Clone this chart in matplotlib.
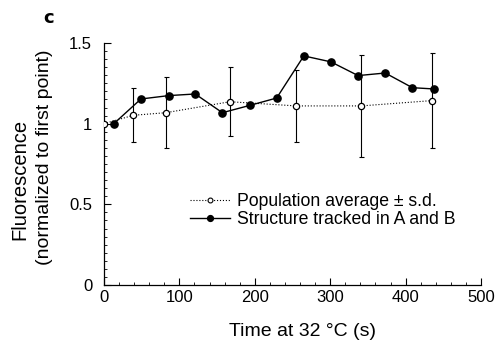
import matplotlib
matplotlib.use("Agg")
import matplotlib.pyplot as plt
from matplotlib.ticker import MultipleLocator
from matplotlib.lines import Line2D

plt.rcParams['font.family'] = ['Liberation Sans', 'DejaVu Sans']

# Population average ± s.d.
pop_t = [0, 39, 82, 167, 255, 341, 435]
pop_mean = [1.0, 1.052, 1.068, 1.136, 1.11, 1.11, 1.143]
pop_sd = [0.0, 0.168, 0.221, 0.213, 0.221, 0.316, 0.296]

# Structure tracked in A and B
trk_t = [13, 49, 86, 121, 157, 194, 229, 265, 301, 337, 373, 409, 438]
trk_val = [1.0, 1.153, 1.174, 1.184, 1.068, 1.114, 1.159, 1.42, 1.383, 1.298, 1.314, 1.223, 1.215]

W, H = 498, 341
fig = plt.figure(figsize=(W/100, H/100), dpi=100)
ax = fig.add_axes([104/W, 1-285/H, 377/W, 242/H])

ax.errorbar(pop_t, pop_mean, yerr=pop_sd, fmt='none', ecolor='black',
            capsize=1.8, elinewidth=0.8, capthick=0.8, zorder=2)
ax.plot(pop_t, pop_mean, ':o', color='black', lw=0.8, mfc='white', mec='black',
        ms=4.5, mew=0.9, zorder=3)
ax.plot(trk_t, trk_val, '-o', color='black', lw=1.0, ms=5.2, zorder=4)

ax.set_xlim(0, 500)
ax.set_ylim(0, 1.5)
ax.set_xticks([0, 100, 200, 300, 400, 500])
ax.set_yticks([0, 0.5, 1, 1.5])
ax.set_yticklabels(['0', '0.5', '1', '1.5'])
ax.xaxis.set_minor_locator(MultipleLocator(20))
ax.yaxis.set_minor_locator(MultipleLocator(0.05))
ax.tick_params(which='major', direction='in', length=5, width=0.8, labelsize=12)
ax.tick_params(axis='y', which='major', pad=8.5)
ax.tick_params(axis='x', which='major', pad=3.5)
ax.tick_params(which='minor', direction='in', length=2.5, width=0.6)
for s in ['top', 'right']:
    ax.spines[s].set_visible(False)
for s in ['left', 'bottom']:
    ax.spines[s].set_linewidth(0.9)

# axis labels
fig.text(302/W, 1-336/H, 'Time at 32 °C (s)', fontsize=14, ha='center', va='baseline')
fig.text(25/W, 1-179/H, 'Fluorescence', fontsize=14.5, rotation=90,
         rotation_mode='anchor', ha='center', va='baseline')
fig.text(49/W, 1-157/H, '(normalized to first point)', fontsize=14, rotation=90,
         rotation_mode='anchor', ha='center', va='baseline')

handles = [
    Line2D([], [], ls=':', lw=0.8, color='black', marker='o', mfc='white', mec='black',
           ms=3.5, mew=0.8),
    Line2D([], [], ls='-', lw=1.0, color='black', marker='o', ms=4.2),
]
labels = ['Population average ± s.d.', 'Structure tracked in A and B']
ax.legend(handles, labels, loc='upper left', bbox_to_anchor=(190/W, 1-193/H),
          bbox_transform=fig.transFigure, frameon=False, fontsize=12.7,
          handlelength=2.25, handletextpad=0.4, labelspacing=0.05, borderpad=0,
          borderaxespad=0)

fig.text(48.5/W, 1-23/H, 'c', fontsize=13, fontweight='heavy', ha='center', va='baseline',
         family=['DejaVu Sans'])

fig.savefig('out.png', dpi=100)
